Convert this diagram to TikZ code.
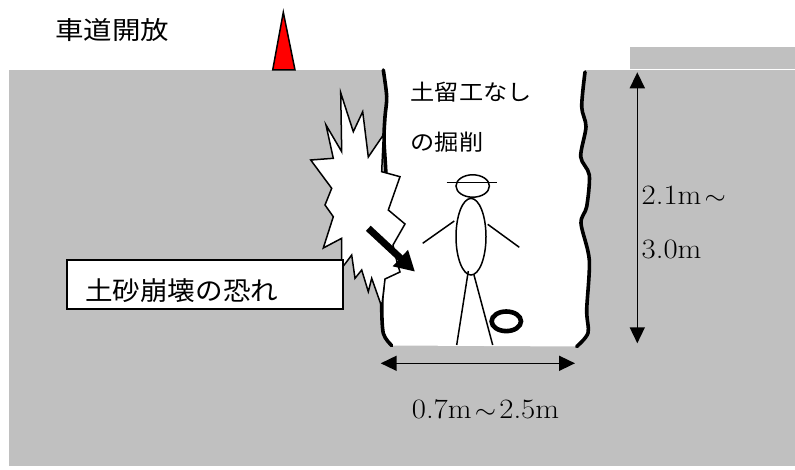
\documentclass[tikz,border=0pt]{standalone}
\usepackage{fontspec}
\usepackage{graphicx}
\newfontfamily\jp{Noto Sans CJK JP}
\usetikzlibrary{arrows.meta}
\definecolor{soil}{RGB}{192,192,192}
\newcommand\xstretch[2]{\scalebox{#1}[1]{#2}}
\newcommand\wavedash{\makebox[0.9em]{$\sim$}}

\begin{document}
\begin{tikzpicture}[x=1pt,y=-1pt,
  thinline/.style={line width=1.5pt},
  wall/.style={line width=3.6pt, line cap=round, line join=round},
  dimhead/.tip={Triangle[width=15pt,length=16pt]},
  dimarrow/.style={line width=1.6pt, dimhead-dimhead},
  jpsmall/.style={inner sep=0pt, font=\jp\fontsize{22}{26}\selectfont},
  jplarge/.style={inner sep=0pt, font=\jp\fontsize{26}{30}\selectfont},
  dimtext/.style={inner sep=0pt, font=\fontsize{28}{32}\selectfont},
]
\useasboundingbox (0,0) rectangle (795,470);

% ground and the raised strip at the top right
\fill[soil] (9,70) rectangle (795,466);
\fill[soil] (630,47) rectangle (795,68.8);

% open trench
\fill[white] (383.3,67) -- plot[smooth] coordinates {(383.3,70) (386.7,96.7) (385,116.7) (384,140)
    (386,180) (384,230) (383.3,280) (381.7,303.3) (383.3,333.3) (391.7,345.5)}
  -- plot[smooth] coordinates {(576.7,346.5) (588,333) (586.7,310) (589.3,260) (581,223.3)
    (586.7,206.7) (589.3,175) (580.7,156.7) (586,126.7) (581.7,106.7) (585,72)}
  -- (585,67) -- cycle;

% trench walls
\draw[wall] plot[smooth] coordinates {(383.3,70) (386.7,96.7) (385,116.7) (384,140)
    (386,180) (384,230) (383.3,280) (381.7,303.3) (383.3,333.3) (391.7,345.5)};
\draw[wall] plot[smooth] coordinates {(585,72) (581.7,106.7) (586,126.7) (580.7,156.7)
    (589.3,175) (586.7,206.7) (581,223.3) (589.3,260) (586.7,310) (588,333) (576.7,346.5)};

% collapse burst
\filldraw[fill=white, draw=black, thinline, line join=miter]
  (340.7,92.7) -- (353.3,131.7) -- (362.7,111.7) -- (368.3,157) -- (383.3,135)
  -- (381.7,171.7) -- (400,176.7) -- (388.3,210) -- (405,224) -- (393,245)
  -- (397,262) -- (400,272) -- (385,279) -- (381.7,306.7)
  -- (371.7,278.3) -- (368.3,291.7) -- (361.7,270) -- (355,278.3) -- (351.7,255)
  -- (341.7,268.3) -- (341.7,238.3) -- (323.3,248) -- (333.3,216.7) -- (325,205)
  -- (331.7,188.3) -- (310.7,160) -- (333.3,158.3) -- (326,125) -- (341.7,151.7)
  -- cycle;

% direction of the slide
\coordinate (slipfrom) at (368.3,228.3);
\coordinate (slipto) at (415,271.7);
\draw[line width=7pt, -{Triangle[width=21pt,length=20pt]}] (slipfrom) -- (slipto);

% warning label
\node[draw, fill=white, line width=2pt, inner sep=0pt, anchor=north west,
      minimum width=275.7pt, minimum height=49pt] (warnbox) at (66,259.3) {};
\node[jplarge, anchor=west] (warntext) at (85,291) {\xstretch{1.06}{土砂崩壊の恐れ}};

% road sign and captions
\filldraw[fill=red, draw=black, thinline, line join=miter]
  (272.7,70) -- (283.3,12.3) -- (295,70) -- cycle;
\node[inner sep=0pt, font=\jp\fontsize{25}{29}\selectfont, anchor=west] (road) at (55,30)
  {\xstretch{1.14}{車道開放}};
\node[jpsmall, anchor=west] (cap1) at (410.5,92.2) {\xstretch{1.1}{土留工なし}};
\node[jpsmall, anchor=west] (cap2) at (410.5,141.7) {\xstretch{1.1}{の掘削}};

% worker
\draw[thinline] (472.7,186) ellipse [x radius=16.7, y radius=11.2];
\draw[thinline] (446.7,182.3) -- (497.3,182.3);
\draw[thinline] (471,236.7) ellipse [x radius=15, y radius=38.3];
\draw[thinline] (454.3,221) -- (422.7,243.3);
\draw[thinline] (487.7,224.3) -- (519.3,247.3);
\draw[thinline] (468.3,271) -- (456.7,345);
\draw[thinline] (474,275) -- (492.7,345);
\draw[line width=4.6pt] (506.3,321.3) ellipse [x radius=14.7, y radius=9.8];

% dimensions
\coordinate (dtop) at (637.3,72.3);
\coordinate (dbot) at (637.3,343.3);
\draw[dimarrow] (dtop) -- (dbot);
\node[dimtext, anchor=base west] (depth1) at (641.5,205) {\xstretch{1.1}{2.1m\wavedash}};
\node[dimtext, anchor=base west] (depth2) at (641.5,258.3) {\xstretch{1.1}{3.0m}};

\coordinate (wleft) at (380.7,363.3);
\coordinate (wright) at (575,363.3);
\draw[dimarrow] (wleft) -- (wright);
\node[dimtext, anchor=base] (width) at (485.5,418.3) {\xstretch{1.1}{0.7m\wavedash 2.5m}};
\end{tikzpicture}
\end{document}
